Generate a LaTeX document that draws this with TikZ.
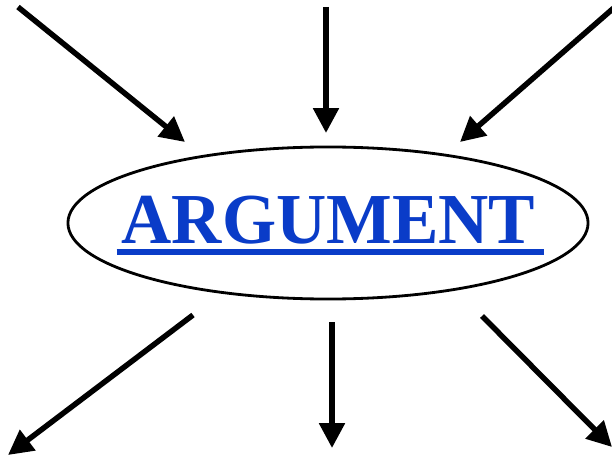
\documentclass[tikz,border=0pt]{standalone}
\usepackage{fontspec}
\setmainfont{Liberation Serif}
\usetikzlibrary{shapes.geometric, arrows.meta}
\definecolor{argblue}{HTML}{0A3CC8}

\begin{document}
\begin{tikzpicture}[x=0.025cm, y=-0.025cm,
  oval/.style={draw=black, ellipse, line width=2pt, minimum width=13cm, minimum height=3.8cm, inner sep=0pt},
  word/.style={text=argblue, font=\fontsize{51}{51}\selectfont\bfseries, inner sep=0pt},
  uline/.style={argblue, line width=0.15cm},
  arr/.style={-{Triangle[length=0.62cm, width=0.62cm]}, line width=3.9pt, black}
]
  \useasboundingbox (0,0) rectangle (612,459);
  \node[oval] (arg) at (328,223) {};
  \node[word, anchor=base] (lbl) at (328.5,243) {\scalebox{0.97}[1]{ARGUMENT}};
  \draw[uline] ([xshift=-0.12cm, yshift=-0.225cm]lbl.base west) -- ([xshift=0.2cm, yshift=-0.225cm]lbl.base east);
  % arrows coming in
  \coordinate (in1) at (18,7);   \coordinate (to1) at (185,142);
  \coordinate (in2) at (326,7);  \coordinate (to2) at (326,133);
  \coordinate (in3) at (616,6);  \coordinate (to3) at (460,142);
  % arrows going out
  \coordinate (fr1) at (193,315); \coordinate (out1) at (8,455);
  \coordinate (fr2) at (332,322); \coordinate (out2) at (332,448);
  \coordinate (fr3) at (482,316); \coordinate (out3) at (612,447);
  \foreach \a/\b in {in1/to1, in2/to2, in3/to3, fr1/out1, fr2/out2, fr3/out3} \draw[arr] (\a) -- (\b);
\end{tikzpicture}
\end{document}
